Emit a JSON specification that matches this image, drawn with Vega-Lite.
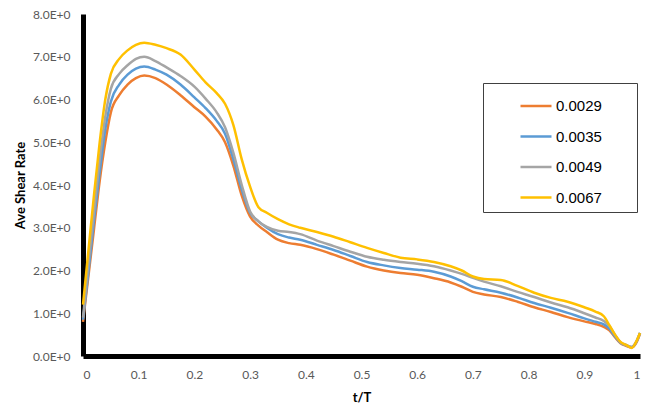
{
  "$schema": "https://vega.github.io/schema/vega-lite/v6.json",
  "width": 557,
  "height": 342,
  "autosize": {"type": "none"},
  "padding": {"left": 83, "top": 14, "right": 5, "bottom": 48},
  "background": "white",
  "config": {
    "view": {"stroke": null},
    "font": "Lato"
  },
  "data": {
    "values": [
      {"t": 0, "series": "0.0029", "rate": 0.8},
      {"t": 0.01, "series": "0.0029", "rate": 1.9},
      {"t": 0.02, "series": "0.0029", "rate": 3.0},
      {"t": 0.03, "series": "0.0029", "rate": 4.1},
      {"t": 0.04, "series": "0.0029", "rate": 5.0},
      {"t": 0.05, "series": "0.0029", "rate": 5.7},
      {"t": 0.065, "series": "0.0029", "rate": 6.1},
      {"t": 0.08, "series": "0.0029", "rate": 6.35},
      {"t": 0.095, "series": "0.0029", "rate": 6.5},
      {"t": 0.11, "series": "0.0029", "rate": 6.56},
      {"t": 0.13, "series": "0.0029", "rate": 6.5},
      {"t": 0.15, "series": "0.0029", "rate": 6.35},
      {"t": 0.175, "series": "0.0029", "rate": 6.1},
      {"t": 0.2, "series": "0.0029", "rate": 5.82},
      {"t": 0.22, "series": "0.0029", "rate": 5.6},
      {"t": 0.24, "series": "0.0029", "rate": 5.3},
      {"t": 0.255, "series": "0.0029", "rate": 5.0},
      {"t": 0.27, "series": "0.0029", "rate": 4.45},
      {"t": 0.285, "series": "0.0029", "rate": 3.75},
      {"t": 0.3, "series": "0.0029", "rate": 3.26},
      {"t": 0.315, "series": "0.0029", "rate": 3.05},
      {"t": 0.33, "series": "0.0029", "rate": 2.9},
      {"t": 0.35, "series": "0.0029", "rate": 2.72},
      {"t": 0.37, "series": "0.0029", "rate": 2.64},
      {"t": 0.39, "series": "0.0029", "rate": 2.6},
      {"t": 0.42, "series": "0.0029", "rate": 2.5},
      {"t": 0.45, "series": "0.0029", "rate": 2.37},
      {"t": 0.48, "series": "0.0029", "rate": 2.23},
      {"t": 0.51, "series": "0.0029", "rate": 2.09},
      {"t": 0.54, "series": "0.0029", "rate": 2.0},
      {"t": 0.57, "series": "0.0029", "rate": 1.94},
      {"t": 0.6, "series": "0.0029", "rate": 1.9},
      {"t": 0.63, "series": "0.0029", "rate": 1.82},
      {"t": 0.66, "series": "0.0029", "rate": 1.72},
      {"t": 0.68, "series": "0.0029", "rate": 1.62},
      {"t": 0.7, "series": "0.0029", "rate": 1.5},
      {"t": 0.72, "series": "0.0029", "rate": 1.44},
      {"t": 0.75, "series": "0.0029", "rate": 1.38},
      {"t": 0.78, "series": "0.0029", "rate": 1.27},
      {"t": 0.81, "series": "0.0029", "rate": 1.14},
      {"t": 0.84, "series": "0.0029", "rate": 1.03},
      {"t": 0.87, "series": "0.0029", "rate": 0.91},
      {"t": 0.9, "series": "0.0029", "rate": 0.81},
      {"t": 0.92, "series": "0.0029", "rate": 0.75},
      {"t": 0.935, "series": "0.0029", "rate": 0.68},
      {"t": 0.945, "series": "0.0029", "rate": 0.6},
      {"t": 0.955, "series": "0.0029", "rate": 0.44},
      {"t": 0.965, "series": "0.0029", "rate": 0.3},
      {"t": 0.975, "series": "0.0029", "rate": 0.24},
      {"t": 0.985, "series": "0.0029", "rate": 0.2},
      {"t": 0.993, "series": "0.0029", "rate": 0.3},
      {"t": 1.0, "series": "0.0029", "rate": 0.52},

      {"t": 0, "series": "0.0035", "rate": 0.85},
      {"t": 0.01, "series": "0.0035", "rate": 2.0},
      {"t": 0.02, "series": "0.0035", "rate": 3.2},
      {"t": 0.03, "series": "0.0035", "rate": 4.3},
      {"t": 0.04, "series": "0.0035", "rate": 5.3},
      {"t": 0.05, "series": "0.0035", "rate": 5.95},
      {"t": 0.065, "series": "0.0035", "rate": 6.35},
      {"t": 0.08, "series": "0.0035", "rate": 6.58},
      {"t": 0.095, "series": "0.0035", "rate": 6.72},
      {"t": 0.11, "series": "0.0035", "rate": 6.77},
      {"t": 0.13, "series": "0.0035", "rate": 6.7},
      {"t": 0.15, "series": "0.0035", "rate": 6.58},
      {"t": 0.175, "series": "0.0035", "rate": 6.35},
      {"t": 0.2, "series": "0.0035", "rate": 6.05},
      {"t": 0.22, "series": "0.0035", "rate": 5.8},
      {"t": 0.24, "series": "0.0035", "rate": 5.5},
      {"t": 0.255, "series": "0.0035", "rate": 5.2},
      {"t": 0.27, "series": "0.0035", "rate": 4.6},
      {"t": 0.285, "series": "0.0035", "rate": 3.9},
      {"t": 0.3, "series": "0.0035", "rate": 3.35},
      {"t": 0.315, "series": "0.0035", "rate": 3.15},
      {"t": 0.33, "series": "0.0035", "rate": 3.0},
      {"t": 0.35, "series": "0.0035", "rate": 2.85},
      {"t": 0.37, "series": "0.0035", "rate": 2.77},
      {"t": 0.39, "series": "0.0035", "rate": 2.72},
      {"t": 0.42, "series": "0.0035", "rate": 2.6},
      {"t": 0.45, "series": "0.0035", "rate": 2.48},
      {"t": 0.48, "series": "0.0035", "rate": 2.34},
      {"t": 0.51, "series": "0.0035", "rate": 2.2},
      {"t": 0.54, "series": "0.0035", "rate": 2.12},
      {"t": 0.57, "series": "0.0035", "rate": 2.06},
      {"t": 0.6, "series": "0.0035", "rate": 2.02},
      {"t": 0.63, "series": "0.0035", "rate": 1.97},
      {"t": 0.66, "series": "0.0035", "rate": 1.86},
      {"t": 0.68, "series": "0.0035", "rate": 1.75},
      {"t": 0.7, "series": "0.0035", "rate": 1.62},
      {"t": 0.72, "series": "0.0035", "rate": 1.56},
      {"t": 0.75, "series": "0.0035", "rate": 1.48},
      {"t": 0.78, "series": "0.0035", "rate": 1.37},
      {"t": 0.81, "series": "0.0035", "rate": 1.24},
      {"t": 0.84, "series": "0.0035", "rate": 1.13},
      {"t": 0.87, "series": "0.0035", "rate": 1.01},
      {"t": 0.9, "series": "0.0035", "rate": 0.88},
      {"t": 0.92, "series": "0.0035", "rate": 0.8},
      {"t": 0.935, "series": "0.0035", "rate": 0.74},
      {"t": 0.945, "series": "0.0035", "rate": 0.64},
      {"t": 0.955, "series": "0.0035", "rate": 0.46},
      {"t": 0.965, "series": "0.0035", "rate": 0.31},
      {"t": 0.975, "series": "0.0035", "rate": 0.25},
      {"t": 0.985, "series": "0.0035", "rate": 0.21},
      {"t": 0.993, "series": "0.0035", "rate": 0.32},
      {"t": 1.0, "series": "0.0035", "rate": 0.54},

      {"t": 0, "series": "0.0049", "rate": 0.9},
      {"t": 0.01, "series": "0.0049", "rate": 2.2},
      {"t": 0.02, "series": "0.0049", "rate": 3.4},
      {"t": 0.03, "series": "0.0049", "rate": 4.6},
      {"t": 0.04, "series": "0.0049", "rate": 5.6},
      {"t": 0.05, "series": "0.0049", "rate": 6.25},
      {"t": 0.065, "series": "0.0049", "rate": 6.6},
      {"t": 0.08, "series": "0.0049", "rate": 6.8},
      {"t": 0.095, "series": "0.0049", "rate": 6.95},
      {"t": 0.11, "series": "0.0049", "rate": 7.0},
      {"t": 0.13, "series": "0.0049", "rate": 6.9},
      {"t": 0.15, "series": "0.0049", "rate": 6.75},
      {"t": 0.175, "series": "0.0049", "rate": 6.55},
      {"t": 0.2, "series": "0.0049", "rate": 6.3},
      {"t": 0.22, "series": "0.0049", "rate": 6.02},
      {"t": 0.24, "series": "0.0049", "rate": 5.7},
      {"t": 0.255, "series": "0.0049", "rate": 5.35},
      {"t": 0.27, "series": "0.0049", "rate": 4.75},
      {"t": 0.285, "series": "0.0049", "rate": 4.0},
      {"t": 0.3, "series": "0.0049", "rate": 3.38},
      {"t": 0.315, "series": "0.0049", "rate": 3.15},
      {"t": 0.33, "series": "0.0049", "rate": 3.02},
      {"t": 0.35, "series": "0.0049", "rate": 2.93},
      {"t": 0.37, "series": "0.0049", "rate": 2.9},
      {"t": 0.39, "series": "0.0049", "rate": 2.85},
      {"t": 0.42, "series": "0.0049", "rate": 2.7},
      {"t": 0.45, "series": "0.0049", "rate": 2.57},
      {"t": 0.48, "series": "0.0049", "rate": 2.44},
      {"t": 0.51, "series": "0.0049", "rate": 2.32},
      {"t": 0.54, "series": "0.0049", "rate": 2.25},
      {"t": 0.57, "series": "0.0049", "rate": 2.2},
      {"t": 0.6, "series": "0.0049", "rate": 2.16},
      {"t": 0.63, "series": "0.0049", "rate": 2.1},
      {"t": 0.66, "series": "0.0049", "rate": 2.0},
      {"t": 0.68, "series": "0.0049", "rate": 1.92},
      {"t": 0.7, "series": "0.0049", "rate": 1.83},
      {"t": 0.72, "series": "0.0049", "rate": 1.74},
      {"t": 0.75, "series": "0.0049", "rate": 1.63},
      {"t": 0.78, "series": "0.0049", "rate": 1.5},
      {"t": 0.81, "series": "0.0049", "rate": 1.38},
      {"t": 0.84, "series": "0.0049", "rate": 1.25},
      {"t": 0.87, "series": "0.0049", "rate": 1.14},
      {"t": 0.9, "series": "0.0049", "rate": 1.0},
      {"t": 0.92, "series": "0.0049", "rate": 0.9},
      {"t": 0.935, "series": "0.0049", "rate": 0.82},
      {"t": 0.945, "series": "0.0049", "rate": 0.7},
      {"t": 0.955, "series": "0.0049", "rate": 0.5},
      {"t": 0.965, "series": "0.0049", "rate": 0.32},
      {"t": 0.975, "series": "0.0049", "rate": 0.26},
      {"t": 0.985, "series": "0.0049", "rate": 0.21},
      {"t": 0.993, "series": "0.0049", "rate": 0.33},
      {"t": 1.0, "series": "0.0049", "rate": 0.54},

      {"t": 0, "series": "0.0067", "rate": 1.2},
      {"t": 0.01, "series": "0.0067", "rate": 2.5},
      {"t": 0.02, "series": "0.0067", "rate": 3.8},
      {"t": 0.03, "series": "0.0067", "rate": 5.0},
      {"t": 0.04, "series": "0.0067", "rate": 6.0},
      {"t": 0.05, "series": "0.0067", "rate": 6.6},
      {"t": 0.065, "series": "0.0067", "rate": 6.95},
      {"t": 0.08, "series": "0.0067", "rate": 7.15},
      {"t": 0.095, "series": "0.0067", "rate": 7.28},
      {"t": 0.11, "series": "0.0067", "rate": 7.33},
      {"t": 0.13, "series": "0.0067", "rate": 7.28},
      {"t": 0.15, "series": "0.0067", "rate": 7.2},
      {"t": 0.175, "series": "0.0067", "rate": 7.05},
      {"t": 0.2, "series": "0.0067", "rate": 6.7},
      {"t": 0.22, "series": "0.0067", "rate": 6.4},
      {"t": 0.24, "series": "0.0067", "rate": 6.15},
      {"t": 0.255, "series": "0.0067", "rate": 5.9},
      {"t": 0.27, "series": "0.0067", "rate": 5.4},
      {"t": 0.285, "series": "0.0067", "rate": 4.6},
      {"t": 0.3, "series": "0.0067", "rate": 3.96},
      {"t": 0.315, "series": "0.0067", "rate": 3.48},
      {"t": 0.33, "series": "0.0067", "rate": 3.35},
      {"t": 0.35, "series": "0.0067", "rate": 3.2},
      {"t": 0.37, "series": "0.0067", "rate": 3.08},
      {"t": 0.39, "series": "0.0067", "rate": 3.0},
      {"t": 0.42, "series": "0.0067", "rate": 2.9},
      {"t": 0.45, "series": "0.0067", "rate": 2.79},
      {"t": 0.48, "series": "0.0067", "rate": 2.66},
      {"t": 0.51, "series": "0.0067", "rate": 2.53},
      {"t": 0.54, "series": "0.0067", "rate": 2.41},
      {"t": 0.57, "series": "0.0067", "rate": 2.3},
      {"t": 0.6, "series": "0.0067", "rate": 2.26},
      {"t": 0.63, "series": "0.0067", "rate": 2.2},
      {"t": 0.66, "series": "0.0067", "rate": 2.1},
      {"t": 0.68, "series": "0.0067", "rate": 2.0},
      {"t": 0.7, "series": "0.0067", "rate": 1.86},
      {"t": 0.72, "series": "0.0067", "rate": 1.8},
      {"t": 0.75, "series": "0.0067", "rate": 1.78},
      {"t": 0.78, "series": "0.0067", "rate": 1.64},
      {"t": 0.81, "series": "0.0067", "rate": 1.48},
      {"t": 0.84, "series": "0.0067", "rate": 1.36},
      {"t": 0.87, "series": "0.0067", "rate": 1.27},
      {"t": 0.9, "series": "0.0067", "rate": 1.14},
      {"t": 0.92, "series": "0.0067", "rate": 1.04},
      {"t": 0.935, "series": "0.0067", "rate": 0.93},
      {"t": 0.945, "series": "0.0067", "rate": 0.72},
      {"t": 0.955, "series": "0.0067", "rate": 0.5},
      {"t": 0.965, "series": "0.0067", "rate": 0.33},
      {"t": 0.975, "series": "0.0067", "rate": 0.26},
      {"t": 0.985, "series": "0.0067", "rate": 0.19},
      {"t": 0.993, "series": "0.0067", "rate": 0.33},
      {"t": 1.0, "series": "0.0067", "rate": 0.54}
    ]
  },
  "mark": {"type": "line", "interpolate": "monotone", "strokeWidth": 2.5},
  "encoding": {
    "x": {
      "field": "t",
      "type": "quantitative",
      "scale": {"domain": [0, 1], "nice": false},
      "axis": {
        "title": "t/T",
        "values": [0, 0.1, 0.2, 0.3, 0.4, 0.5, 0.6, 0.7, 0.8, 0.9, 1],
        "format": "~g",
        "grid": false,
        "ticks": false,
        "domainColor": "black",
        "domainWidth": 5,
        "labelColor": "#595959",
        "labelFont": "Lato",
        "labelFontSize": 12,
        "labelPadding": 13,
        "titleFont": "Lato",
        "titleFontSize": 13,
        "titleFontWeight": "bold",
        "titleColor": "black",
        "titlePadding": 11
      }
    },
    "y": {
      "field": "rate",
      "type": "quantitative",
      "scale": {"domain": [0, 8], "nice": false},
      "axis": {
        "title": "Ave Shear Rate",
        "values": [0, 1, 2, 3, 4, 5, 6, 7, 8],
        "labelExpr": "format(datum.value, '.1f') + 'E+0'",
        "grid": false,
        "ticks": false,
        "domainColor": "black",
        "domainWidth": 5,
        "labelColor": "#595959",
        "labelFont": "Lato",
        "labelFontSize": 12,
        "labelPadding": 13,
        "titleFont": "Lato",
        "titleFontSize": 13,
        "titleFontWeight": "bold",
        "titleColor": "black",
        "titlePadding": 5
      }
    },
    "color": {
      "field": "series",
      "type": "nominal",
      "scale": {
        "domain": ["0.0029", "0.0035", "0.0049", "0.0067"],
        "range": ["#ED7D31", "#5B9BD5", "#A5A5A5", "#FFC000"]
      },
      "legend": {
        "title": " ",
        "titleOrient": "right",
        "titlePadding": 29,
        "titleFontSize": 15,
        "orient": "none",
        "legendX": 400,
        "legendY": 69,
        "symbolType": "stroke",
        "symbolSize": 961,
        "symbolStrokeWidth": 2.5,
        "symbolOffset": 30,
        "labelOffset": 3,
        "labelFont": "Liberation Sans",
        "labelFontSize": 15,
        "labelColor": "black",
        "rowPadding": 5.5,
        "padding": 6,
        "strokeColor": "#404040",
        "fillColor": "white"
      }
    }
  }
}
